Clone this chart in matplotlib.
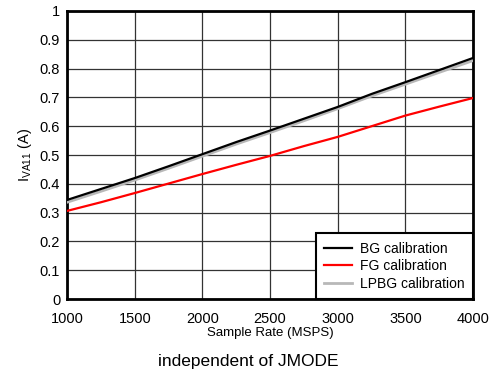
import matplotlib.pyplot as plt
import numpy as np

rate = [1000, 1250, 1500, 1750, 2000, 2250, 2500, 2750, 3000, 3250, 3500, 3750, 4000]
bg = [0.344, 0.382, 0.420, 0.461, 0.503, 0.545, 0.585, 0.626, 0.667, 0.712, 0.753, 0.795, 0.837]
fg = [0.306, 0.336, 0.368, 0.401, 0.434, 0.466, 0.497, 0.531, 0.563, 0.600, 0.637, 0.668, 0.698]
lpbg = [0.336, 0.374, 0.413, 0.454, 0.496, 0.538, 0.578, 0.619, 0.661, 0.705, 0.746, 0.787, 0.828]

plt.rcParams['font.family'] = ['Liberation Sans', 'DejaVu Sans']

fig = plt.figure(figsize=(4.97, 3.79), dpi=100)
ax = fig.add_axes([0.135, 0.211, 0.817, 0.760])

ax.plot(rate, lpbg, color='#b8b8b8', lw=2.0, label='LPBG calibration', zorder=3)
ax.plot(rate, bg, color='black', lw=1.6, label='BG calibration', zorder=4)
ax.plot(rate, fg, color='#ff0000', lw=1.6, label='FG calibration', zorder=4)

ax.set_xlim(1000, 4000)
ax.set_ylim(0, 1)
ax.set_xticks(np.arange(1000, 4001, 500))
ax.set_yticks(np.arange(0, 1.01, 0.1))
ax.set_yticklabels(['0', '0.1', '0.2', '0.3', '0.4', '0.5', '0.6', '0.7', '0.8', '0.9', '1'])
ax.tick_params(length=0, labelsize=10.5)
ax.tick_params(axis='x', pad=9)
ax.tick_params(axis='y', pad=5)
ax.grid(True, color='#333333', lw=0.9)
for s in ax.spines.values():
    s.set_linewidth(2)
ax.set_xlabel('Sample Rate (MSPS)', fontsize=9.5, labelpad=1)
ax.set_ylabel(r'I$_{\mathregular{VA11}}$ (A)', fontsize=10.5)

h, l = ax.get_legend_handles_labels()
order = [1, 2, 0]
leg = ax.legend([h[i] for i in order], [l[i] for i in order], loc='lower right',
                fontsize=10, fancybox=False, framealpha=1, edgecolor='black',
                borderaxespad=0, handlelength=2.0, handletextpad=0.6,
                labelspacing=0.25, borderpad=0.6)
leg.get_frame().set_linewidth(1.5)

fig.text(0.5, 0.035, 'independent of JMODE', ha='center', fontsize=12.5)

fig.savefig('out.png', dpi=100)
